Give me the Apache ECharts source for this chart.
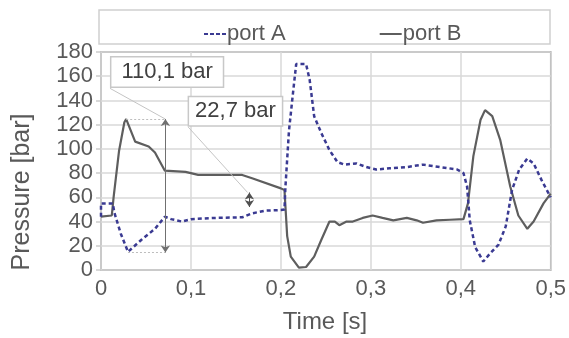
<!DOCTYPE html>
<html><head><meta charset="utf-8">
<script src="https://cdn.jsdelivr.net/npm/echarts@6/dist/echarts.min.js"></script>
<style>html,body{margin:0;padding:0;background:#fff}#c{width:569px;height:338px}</style>
</head><body><div id="c"></div>
<script>
var timeA = [0,0,0.013,0.015,0.022,0.030,0.045,0.060,0.071,0.078,0.090,0.100,0.127,0.157,0.168,0.183,0.200,0.204,0.205,0.209,0.213,0.217,0.228,0.232,0.237,0.245,0.254,0.263,0.271,0.284,0.295,0.306,0.321,0.340,0.358,0.377,0.396,0.403,0.407,0.410,0.416,0.425,0.433,0.442,0.450,0.457,0.465,0.474,0.481,0.490,0.500];
var portA = [44,55,55,47,30,15,25,34,44,42,40,42,43,43.5,46.8,49,49.5,50,68,115,143,170,170,157,127,113,99,89,87,88,85,83,84,85,87,85,83,80,69,41,19,7,14,21,36,66,83,92,88,74,60];
var timeB = [0,0.012,0.014,0.020,0.026,0.028,0.038,0.053,0.060,0.071,0.094,0.108,0.157,0.168,0.200,0.204,0.207,0.211,0.220,0.228,0.237,0.245,0.254,0.260,0.265,0.273,0.280,0.291,0.302,0.313,0.325,0.340,0.351,0.358,0.373,0.388,0.403,0.408,0.414,0.422,0.427,0.435,0.444,0.455,0.464,0.474,0.481,0.492,0.500];
var portB = [44,45,60,98,122,124.6,106,102,97,82,81,78.5,78.5,75.7,67.4,66,28,11,2,2.5,11,25,40,40,37,40,40,43,45,43,41,43,41,39,41,41.5,42,55,94,124,132,127,107,69,45,34,40,55,63];
var xTicks = ['0','0,1','0,2','0,3','0,4','0,5'];
var yTicks = [0,20,40,60,80,100,120,140,160,180];
var seriesNames = ['port A','port B'];
var annText = ['110,1 bar','22,7 bar'];

function pairs(t, v){ return t.map(function(x,i){return [x, v[i]];}); }
var txt = '#595959';
var font = 'Liberation Sans, Arial, sans-serif';
var dashIcon = 'path://M0,0h4v2h-4z M6,0h4v2h-4z M12,0h4v2h-4z M18,0h4v2h-4z';
var solidIcon = 'path://M0,0h22v2h-22z';
var chart = echarts.init(document.getElementById('c'), null, {renderer:'canvas'});
chart.setOption({
  animation:false,
  grid:{left:101,right:18,top:52,bottom:68,show:true,borderColor:'#808080',borderWidth:1.5,backgroundColor:'transparent'},
  legend:{left:199,top:18,itemGap:94,itemWidth:22,itemHeight:2,
    textStyle:{color:txt,fontSize:22,fontFamily:font,padding:[0,0,0,-4]},
    data:[{name:seriesNames[0],icon:dashIcon},{name:seriesNames[1],icon:solidIcon}]},
  xAxis:{type:'value',min:0,max:0.5,interval:0.1,
    axisLine:{show:false},axisTick:{show:false},
    splitLine:{lineStyle:{color:'#d9d9d9',width:1.5}},
    axisLabel:{color:txt,fontSize:22,fontFamily:font,margin:8,
      formatter:function(v){return xTicks[Math.round(v*10)];}}},
  yAxis:{type:'value',min:0,max:180,interval:20,
    axisLine:{show:false},axisTick:{show:true,length:5,lineStyle:{color:'#cccccc',width:1.5}},
    splitLine:{lineStyle:{color:'#d9d9d9',width:1.5}},
    axisLabel:{color:txt,fontSize:22,fontFamily:font,margin:8,lineHeight:22,
      formatter:function(v){return yTicks.indexOf(v)>=0?String(v):'';}}},
  graphic:[
    {type:'rect',shape:{x:99,y:10,width:451,height:34},style:{fill:'none',stroke:'#cfcfcf',lineWidth:1.5},z:-1},
    {type:'text',x:325,y:322,style:{text:'Time [s]',fill:txt,font:'24px '+font,textAlign:'center',textVerticalAlign:'middle'}},
    {type:'text',x:22,y:192,rotation:Math.PI/2,style:{text:'Pressure [bar]',fill:txt,font:'25px '+font,textAlign:'center',textVerticalAlign:'middle'}}
  ],
  series:[
    {name:seriesNames[0],type:'line',symbol:'none',data:pairs(timeA,portA),
     lineStyle:{color:'#3a3a92',width:2.5,type:[4,3]},itemStyle:{color:'#3a3a92'},z:3},
    {name:seriesNames[1],type:'line',symbol:'none',data:pairs(timeB,portB),
     lineStyle:{color:'#5e5e5e',width:2.2},itemStyle:{color:'#5e5e5e'},z:2,
     markLine:{silent:true,symbol:['none','none'],label:{show:false},
       lineStyle:{color:'#c4c4c4',width:1,type:'solid'},
       data:[
         [{coord:[0.010,150]},{coord:[0.0716,124.6]}],
         [{coord:[0.097,118]},{coord:[0.163,64]}],
         [{coord:[0.028,124.6],lineStyle:{type:[2,2],color:'#bdbdbd'}},{coord:[0.0716,124.6]}],
         [{coord:[0.030,14.5],lineStyle:{type:[2,2],color:'#bdbdbd'}},{coord:[0.0716,14.5]}],
         [{coord:[0.0716,124.6],symbol:'arrow',symbolSize:7,lineStyle:{color:'#707070',width:1}},{coord:[0.0716,14.5],symbol:'arrow',symbolSize:7}],
         [{coord:[0.165,64],symbol:'arrow',symbolSize:7,lineStyle:{color:'#505050',width:1}},{coord:[0.165,52],symbol:'arrow',symbolSize:7}]
       ]},
     markPoint:{silent:true,symbol:'circle',symbolSize:0,
       label:{show:true,position:'inside',color:'#404040',fontSize:22,fontFamily:font,
         backgroundColor:'#ffffff',borderColor:'#c8c8c8',borderWidth:1.5,padding:[4,10,3,10]},
       data:[
         {coord:[0.0735,163.5],value:0,label:{formatter:annText[0]}},
         {coord:[0.1495,131],value:0,label:{formatter:annText[1],padding:[3,6,3,6]}}
       ]}}
  ]
});
</script></body></html>
